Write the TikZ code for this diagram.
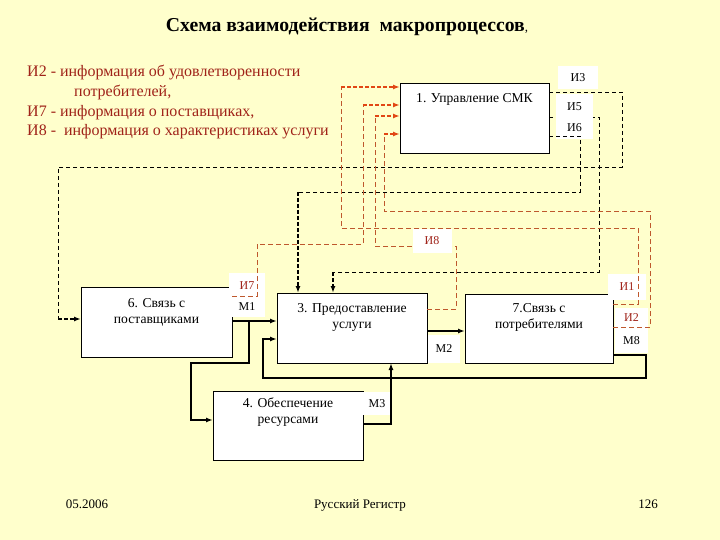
\documentclass[tikz,border=0pt]{standalone}
\usepackage{fontspec}
\setmainfont{Liberation Serif}
\usetikzlibrary{arrows.meta}
\definecolor{bg}{RGB}{255,255,204}
\definecolor{legred}{RGB}{160,35,25}
\definecolor{rline}{RGB}{190,88,45}
\definecolor{rarrow}{RGB}{225,70,20}
\begin{document}
\begin{tikzpicture}[x=1pt,y=-1pt,
  box/.style={draw=black,line width=0.8pt,fill=white,minimum width=150pt,minimum height=70pt,inner sep=0pt,outer sep=0pt},
  boxtxt/.style={font=\fontsize{13.6}{16}\selectfont,align=center,inner sep=0pt,anchor=north},
  legend/.style={font=\fontsize{16}{19}\selectfont,text=legred,inner sep=0pt,anchor=base west},
  lbl/.style={fill=white,inner sep=0pt,font=\fontsize{12}{14}\selectfont},
  foot/.style={font=\fontsize{13}{15}\selectfont,inner sep=0pt,anchor=base},
  tip/.style={-{Latex[length=7pt,width=5pt]}},
  kdash/.style={draw=black,line width=0.9pt,dash pattern=on 4pt off 3pt},
  kthick/.style={draw=black,line width=2pt,dash pattern=on 4pt off 2pt},
  rdash/.style={draw=rline,line width=0.9pt,dash pattern=on 5pt off 3pt},
  rthick/.style={draw=rarrow,line width=2pt,dash pattern=on 4pt off 2pt},
  mat/.style={draw=black,line width=2.2pt}]
\path[fill=bg] (0,0) rectangle (720,540);

% title and legend
\node[inner sep=0pt] (title) at (347,27) {{\bfseries\fontsize{19.7}{23}\selectfont Схема взаимодействия\ \ макропроцессов}{\fontsize{13}{15}\selectfont,}};
\node[legend] (lg1) at (27,77) {И2 - информация об удовлетворенности};
\node[legend] (lg2) at (74,97) {потребителей,};
\node[legend] (lg3) at (27,117) {И7 - информация о поставщиках,};
\node[legend] (lg4) at (27,136) {И8 -\ \ информация о характеристиках услуги};

% boxes
\node[box,minimum width=149pt] (b1) at (474.5,118) {};
\node[box,minimum width=151pt] (b6) at (156.5,322) {};
\node[box] (b3) at (352,328) {};
\node[box,minimum width=148pt,minimum height=69pt] (b7) at (539,328.5) {};
\node[box,minimum height=69pt] (b4) at (288,425.5) {};

% labels under the lines
\node[lbl,minimum width=40pt,minimum height=23pt] (l3) at (578,77.5) {И3};
\node[lbl,minimum width=37pt,minimum height=22pt] (l6) at (574.5,128) {И6};
\node[lbl,minimum width=36pt,minimum height=26pt,text=legred] (l7) at (247,286) {И7};
\node[lbl,minimum width=36pt,minimum height=20pt] (lm1) at (247,307) {М1};
\node[lbl,minimum width=38pt,minimum height=26pt,text=legred] (l1) at (627,287) {И1};
\node[lbl,minimum width=33pt,minimum height=20pt,text=legred] (l2) at (631.5,318) {И2};
\node[lbl,minimum width=33pt,minimum height=25pt] (lm8) at (631.5,340.5) {М8};
\node[lbl,minimum width=32pt,minimum height=28pt] (lm2) at (444,349) {М2};
\node[lbl,minimum width=29pt,minimum height=23pt] (lm3) at (377,403.5) {М3};

% waypoints
\coordinate (w1) at (622,167);
\coordinate (w2) at (580,192);
\coordinate (w3) at (599,272);
\coordinate (v1) at (638,228);
\coordinate (v2) at (257,244);
\coordinate (v3) at (456,246);
\coordinate (v4) at (650,211);
\coordinate (w5) at (191,363);
\coordinate (w6) at (646,378);

% black dashed information flows
\path ([yshift=26pt]b1.east) coordinate (a1) ([yshift=3pt]b6.west) coordinate (a1e);
\path (a1e) ++(-23,0) coordinate (a1k);
\draw[kdash] (a1) -| (w1) -| (a1k);
\draw[kthick,tip] (a1k) -- (a1e);

\path ([yshift=-18pt]b1.east) coordinate (a2) ([xshift=-54pt]b3.north) coordinate (a2e);
\draw[kdash] (a2) -| (w2) -- (a2e |- w2);
\draw[kthick,tip] (a2e |- w2) -- (a2e);

\path ([yshift=1pt]b1.east) coordinate (a3) ([xshift=-19pt]b3.north) coordinate (a3e);
\draw[kdash] (a3) -| (w3) -- (a3e |- w3);
\draw[kthick,tip] (a3e |- w3) -- (a3e);

% red dashed information flows
\path ([yshift=24.5pt]b7.east) coordinate (r1s) ([yshift=31pt]b1.west) coordinate (r1e);
\path (r1e) ++(-59,0) coordinate (k1);
\draw[rdash] (r1s) -| (v1) -| (k1);
\draw[rthick,tip] (k1) -- (r1e);

\path ([yshift=26pt]b6.east) coordinate (r2s) ([yshift=13pt]b1.west) coordinate (r2e);
\path (r2e) ++(-37,0) coordinate (k2);
\draw[rdash] (r2s) -| (v2) -| (k2);
\draw[rthick,tip] (k2) -- (r2e);

\path ([yshift=19pt]b3.east) coordinate (r3s) ([yshift=2pt]b1.west) coordinate (r3e);
\path (r3e) ++(-25,0) coordinate (k3);
\draw[rdash] (r3s) -| (v3) -| (k3);
\draw[rthick,tip] (k3) -- (r3e);

\path ([yshift=1.5pt]b7.east) coordinate (r4s) ([yshift=-16pt]b1.west) coordinate (r4e);
\path (r4e) ++(-16,0) coordinate (k4);
\draw[rdash] (r4s) -| (v4) -| (k4);
\draw[rthick,tip] (k4) -- (r4e);

% material flows
\path ([yshift=1pt]b6.east) coordinate (m1s);
\draw[mat,tip] (m1s) -- (m1s -| b3.west);
\path (m1s) ++(17,0) coordinate (j1) ([yshift=5.5pt]b4.west) coordinate (m4in);
\draw[mat,tip] (j1) |- (w5) |- (m4in);

\path ([yshift=-3pt]b3.east) coordinate (m2s);
\draw[mat,tip] (m2s) -- (m2s -| b7.west);

\path ([yshift=-26.5pt]b7.east) coordinate (m8s) ([yshift=-11pt]b3.west) coordinate (m8e);
\path (m8e) ++(-14,0) coordinate (k8);
\draw[mat,tip] (m8s) -| (w6) -| (k8) -- (m8e);

\path ([yshift=1.5pt]b4.east) coordinate (m3s) ([xshift=39pt]b3.south) coordinate (m3e);
\draw[mat,tip] (m3s) -| (m3e);

% labels above the lines
\node[lbl,minimum width=37pt,minimum height=26pt] (l5) at (574.5,107) {И5};
\node[lbl,minimum width=39pt,minimum height=24pt,text=legred] (l8) at (432,241) {И8};

% box texts
\node[boxtxt] (t1) at ([yshift=-10pt]b1.north) {1. Управление СМК};
\node[boxtxt] (t6) at ([yshift=-11pt]b6.north) {6. Связь с\\поставщиками};
\node[boxtxt] (t3) at ([yshift=-10pt]b3.north) {3. Предоставление\\услуги};
\node[boxtxt] (t7) at ([yshift=-9pt]b7.north) {7.Связь с\\потребителями};
\node[boxtxt] (t4) at ([yshift=-7pt]b4.north) {4. Обеспечение\\ресурсами};

% footer
\node[foot] (f1) at (87,508) {05.2006};
\node[foot] (f2) at (360,508) {Русский Регистр};
\node[foot] (f3) at (648,508) {126};
\end{tikzpicture}
\end{document}
